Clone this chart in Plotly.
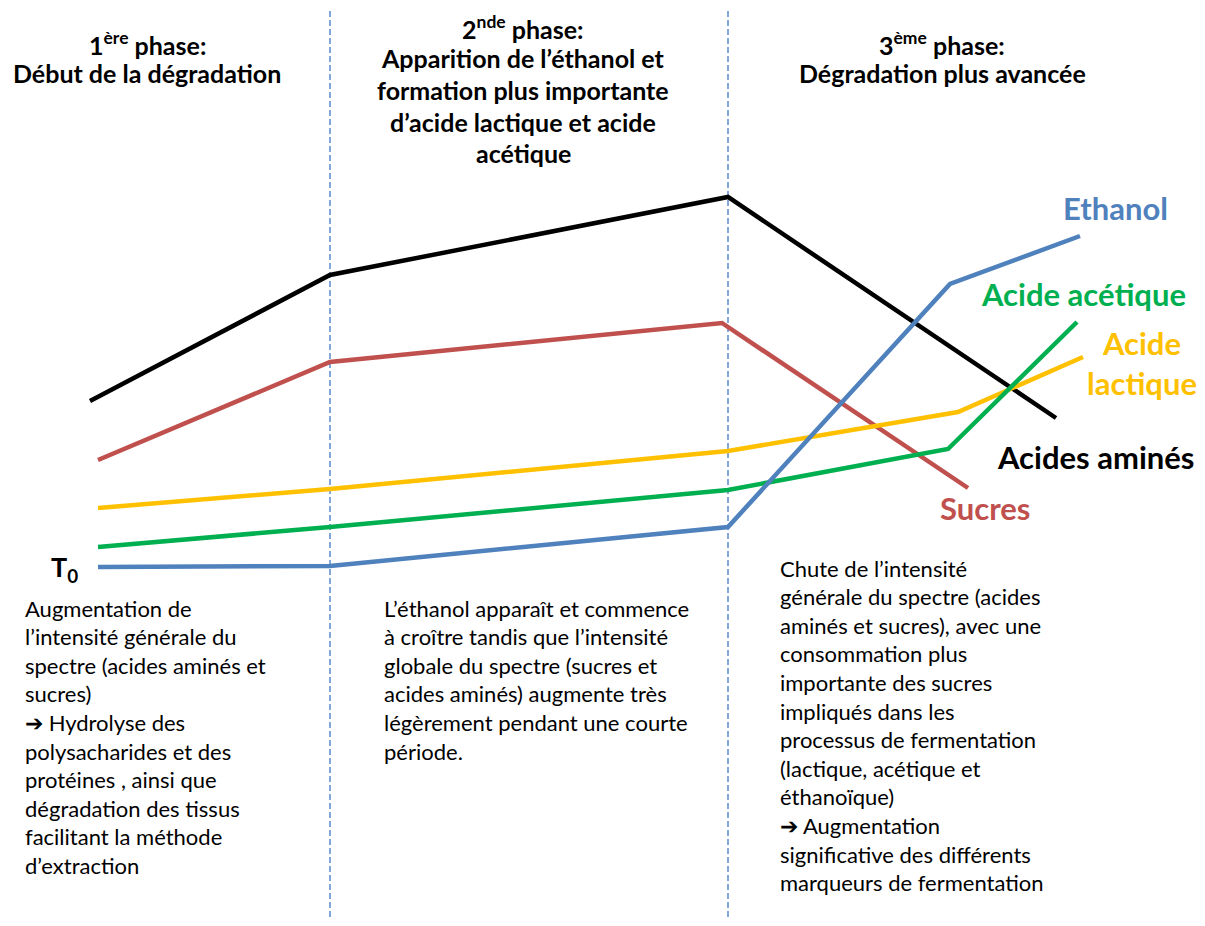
import plotly.graph_objects as go

# Schematic intensities (arbitrary units)
series_names = ["Acides aminés", "Sucres", "Acide lactique", "Acide acétique", "Ethanol"]
series_colors = ["#000000", "#C0504D", "#FFC000", "#00B050", "#4F81BD"]

amines_x = [90, 330, 728, 1056]
amines_y = [525, 651, 729, 508]

sucres_x = [98, 330, 722, 968]
sucres_y = [466, 564, 603, 438]

lactique_x = [98, 330, 728, 958, 1083]
lactique_y = [418, 437, 475, 514, 569]

acetique_x = [98, 330, 728, 948, 1077]
acetique_y = [379, 399, 436, 477, 604]

ethanol_x = [98, 330, 728, 950, 1080]
ethanol_y = [359, 360, 399, 642, 690]

phase_limits = [330, 728]

phase_titles = [
    ["1<sup>ère</sup> phase:", "Début de la dégradation"],
    ["2<sup>nde</sup> phase:", "Apparition de l’éthanol et", "formation plus importante",
     "d’acide lactique et acide", "acétique"],
    ["3<sup>ème</sup> phase:", "Dégradation plus avancée"],
]

phase_texts = [
    ["Augmentation de", "l’intensité générale du", "spectre (acides aminés et", "sucres)",
     "➔ Hydrolyse des", "polysacharides et des", "protéines , ainsi que",
     "dégradation des tissus", "facilitant la méthode", "d’extraction"],
    ["L’éthanol apparaît et commence", "à croître tandis que l’intensité",
     "globale du spectre (sucres et", "acides aminés) augmente très",
     "légèrement pendant une courte", "période."],
    ["Chute de l’intensité", "générale du spectre (acides", "aminés et sucres), avec une",
     "consommation plus", "importante des sucres", "impliqués dans les",
     "processus de fermentation", "(lactique, acétique et", "éthanoïque)",
     "➔ Augmentation", "significative des différents", "marqueurs de fermentation"],
]

W, H = 1205, 926
PAD = 8  # the page body has an 8px margin
FONT = "Lato"

fig = go.Figure()

xs = [amines_x, sucres_x, lactique_x, acetique_x, ethanol_x]
ys = [amines_y, sucres_y, lactique_y, acetique_y, ethanol_y]
for name, color, x, y in zip(series_names, series_colors, xs, ys):
    fig.add_trace(go.Scatter(x=x, y=y, mode="lines", name=name,
                             line=dict(color=color, width=4.5)))

# phase separators
for xv in phase_limits:
    fig.add_shape(type="line", x0=xv, x1=xv, y0=0, y1=H, xref="x", yref="y",
                  line=dict(color="#5A8ACB", width=1.5, dash="6px,3px"), layer="below")

# phase headings
title_centers = [147, 523, 942]
title_tops = [[43, 73], [27, 58, 90, 122, 153], [43, 73]]
for lines, cx, tops in zip(phase_titles, title_centers, title_tops):
    for line, ty in zip(lines, tops):
        fig.add_annotation(x=cx, y=H - ty, text=f"<b>{line}</b>", showarrow=False,
                           xanchor="center", yanchor="middle",
                           font=dict(family=FONT, size=25, color="black"))

# phase descriptions
text_left = [23, 382, 778]
text_start = [608, 608, 568]
line_step = 28.6
for lines, lx, sy in zip(phase_texts, text_left, text_start):
    for i, line in enumerate(lines):
        fig.add_annotation(x=lx, y=H - (sy + i * line_step), text=line, showarrow=False,
                           xanchor="left", yanchor="middle",
                           font=dict(family=FONT, size=22, color="black"))

# series labels
label_pos = {
    "Ethanol": (1115, 208),
    "Acide acétique": (1083, 294),
    "Acide<br>lactique": (1142, 363),
    "Acides aminés": (1095, 457),
    "Sucres": (985, 508),
}
label_colors = ["#4F81BD", "#00B050", "#FFC000", "#000000", "#C0504D"]
for (txt, (lx, ly)), col in zip(label_pos.items(), label_colors):
    fig.add_annotation(x=lx, y=H - ly, text=f"<b>{txt}</b>", showarrow=False,
                       xanchor="center", yanchor="middle",
                       font=dict(family=FONT, size=31, color=col))

fig.add_annotation(x=64, y=H - 568, text="<b>T<sub>0</sub></b>", showarrow=False,
                   xanchor="center", yanchor="middle",
                   font=dict(family=FONT, size=27, color="black"))

fig.update_layout(
    width=W - 2 * PAD, height=H - 2 * PAD,
    margin=dict(l=0, r=0, t=0, b=0),
    paper_bgcolor="white", plot_bgcolor="white",
    showlegend=False,
    xaxis=dict(range=[PAD, W - PAD], visible=False, fixedrange=True),
    yaxis=dict(range=[PAD, H - PAD], visible=False, fixedrange=True),
)

fig.write_html("out.html")
